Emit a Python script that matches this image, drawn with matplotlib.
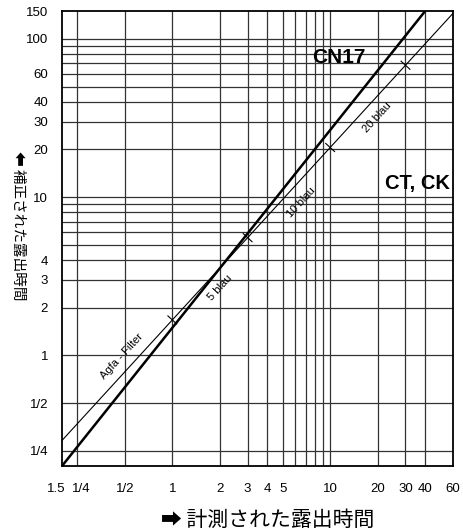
import numpy as np
import matplotlib
matplotlib.use("Agg")
import matplotlib.pyplot as plt
from matplotlib.transforms import ScaledTranslation

# Données
x_ticks = [0.2, 0.25, 0.5, 1, 2, 3, 4, 5, 10, 20, 30, 40, 60]
x_ticklabels = ["1.5", "1/4", "1/2", "1", "2", "3", "4", "5", "10", "20", "30", "40", "60"]
y_ticks = [0.25, 0.5, 1, 2, 3, 4, 10, 20, 30, 40, 60, 100, 150]
y_ticklabels = ["1/4", "1/2", "1", "2", "3", "4", "10", "20", "30", "40", "60", "100", "150"]
x_grid = [0.25, 0.5, 1, 2, 3, 4, 5, 6, 7, 8, 9, 10, 20, 30, 40]
y_grid = [0.25, 0.5, 1, 2, 3, 4, 5, 6, 7, 8, 9, 10, 20, 30, 40, 50, 60, 70, 80, 90, 100]

cn17_x = [0.2, 40]
cn17_y = [0.2, 150]
ctck_x = [0.2, 60]
ctck_y = [0.29, 145]

filter_marks = [1, 3, 10, 30]
filter_labels = ["Agfa - Filter", "5 blau", "10 blau", "20 blau"]
filter_label_x = [0.48, 2.0, 6.6, 19.8]
filter_label_y = [0.98, 2.66, 9.2, 32]

plt.rcParams["font.family"] = ["Liberation Sans", "DejaVu Sans"]

fig = plt.figure(figsize=(4.63, 5.30), dpi=100)
ax = fig.add_axes([62 / 463, 64 / 530, 391 / 463, 455 / 530])
ax.set_xscale("log")
ax.set_yscale("log")
ax.set_xlim(0.2, 60)
ax.set_ylim(0.2, 150)

for gx in x_grid:
    ax.axvline(gx, color="#333333", lw=0.9, zorder=1)
for gy in y_grid:
    ax.axhline(gy, color="#333333", lw=0.9, zorder=1)

ax.set_xticks(x_ticks)
ax.set_xticklabels(x_ticklabels)
ax.set_yticks(y_ticks)
ax.set_yticklabels(y_ticklabels)
ax.minorticks_off()
ax.tick_params(length=0, labelsize=9.5, pad=12)
ax.tick_params(axis="y", pad=10)
for s in ax.spines.values():
    s.set_linewidth(1.3)

# décaler les deux premières étiquettes pour éviter le chevauchement
xl = ax.get_xticklabels()
xl[0].set_transform(xl[0].get_transform() + ScaledTranslation(-6 / 100, 0, fig.dpi_scale_trans))
xl[1].set_transform(xl[1].get_transform() + ScaledTranslation(4 / 100, 0, fig.dpi_scale_trans))

# courbes
ax.plot(cn17_x, cn17_y, color="black", lw=1.8, solid_capstyle="butt", zorder=3)
ax.plot(ctck_x, ctck_y, color="black", lw=0.8, zorder=3)

# petits traits perpendiculaires sur la ligne mince
lx = np.log10(ctck_x)
ly = np.log10(ctck_y)
slope = (ly[1] - ly[0]) / (lx[1] - lx[0])
p0 = ax.transData.transform((ctck_x[0], ctck_y[0]))
p1 = ax.transData.transform((ctck_x[1], ctck_y[1]))
d = (p1 - p0) / np.hypot(*(p1 - p0))
n = np.array([d[1], -d[0]])
angle = np.degrees(np.arctan2(d[1], d[0]))
inv = ax.transData.inverted()
for m in filter_marks:
    my = 10 ** (ly[0] + slope * (np.log10(m) - lx[0]))
    c = ax.transData.transform((m, my))
    a = inv.transform(c + 6 * n)
    b = inv.transform(c - 6 * n)
    ax.plot([a[0], b[0]], [a[1], b[1]], color="black", lw=0.8, zorder=3)

for lab, tx, ty in zip(filter_labels, filter_label_x, filter_label_y):
    ax.text(tx, ty, lab, fontsize=8, rotation=angle, rotation_mode="anchor",
            ha="center", va="center", zorder=4)

ax.text(11.4, 76, "CN17", fontsize=15, fontweight="bold", ha="center", va="center", zorder=4)
ax.text(35.5, 12.2, "CT, CK", fontsize=14.5, fontweight="bold", ha="center", va="center", zorder=4)

cjk = ["Noto Sans CJK JP", "DejaVu Sans"]
fig.text(268 / 463, 1 - 520 / 530, "➡ 計測された露出時間", family=cjk, fontsize=15,
         ha="center", va="center")
fig.text(18 / 463, 1 - 226 / 530, "⬅ 補正された露出時間", family=cjk, fontsize=10.5,
         rotation=-90, ha="center", va="center")

fig.savefig("out.png", dpi=100)
